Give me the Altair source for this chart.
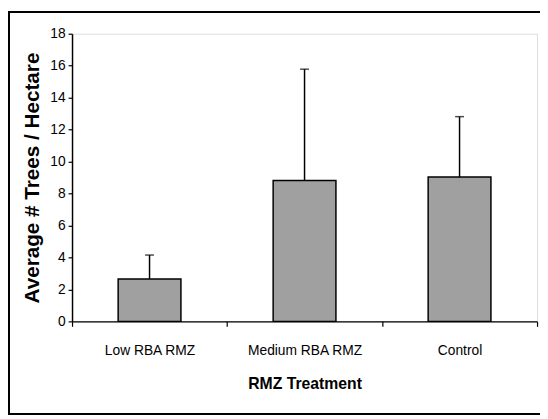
import altair as alt
import pandas as pd

categories = ["Low RBA RMZ", "Medium RBA RMZ", "Control"]
means = [2.65, 8.82, 9.03]
upper = [4.15, 15.78, 12.81]
y_ticks = [0, 2, 4, 6, 8, 10, 12, 14, 16, 18]

df = pd.DataFrame({"treatment": categories, "mean": means, "upper": upper})

FONT = "Liberation Sans, Arial, sans-serif"

x_enc = alt.X(
    "treatment:N",
    sort=categories,
    scale=alt.Scale(paddingInner=0, paddingOuter=0),
    axis=alt.Axis(
        title="RMZ Treatment",
        labelAngle=0,
        tickBand="extent",
        tickSize=5,
        tickColor="black",
        domainColor="black",
        domainWidth=1.5,
        tickWidth=1.2,
        labelFont=FONT,
        labelFontSize=14,
        labelColor="black",
        labelPadding=18,
        titleFont=FONT,
        titleFontSize=16,
        titleFontWeight="bold",
        titleColor="black",
        titlePadding=18,
    ),
)

y_scale = alt.Scale(domain=[0, 18], nice=False)
y_axis = alt.Axis(
    title="Average # Trees / Hectare",
    values=y_ticks,
    labelOverlap=False,
    grid=False,
    tickSize=4,
    tickColor="black",
    domainColor="black",
    domainWidth=1.5,
    tickWidth=1.2,
    labelFont=FONT,
    labelFontSize=14,
    labelColor="black",
    labelPadding=3,
    titleFont=FONT,
    titleFontSize=21,
    titleFontWeight="bold",
    titleColor="black",
    titlePadding=7,
)

base = alt.Chart(df)

bars = base.mark_bar(
    width=alt.RelativeBandSize(0.405), fill="#a0a0a0", stroke="black", strokeWidth=1.5
).encode(x=x_enc, y=alt.Y("mean:Q", scale=y_scale, axis=y_axis))

err = base.mark_rule(color="black", strokeWidth=1.5).encode(
    x=x_enc,
    y=alt.Y("mean:Q", scale=y_scale, axis=y_axis),
    y2="upper:Q",
)

caps = base.mark_tick(color="black", size=9, thickness=1.5).encode(
    x=x_enc,
    y=alt.Y("upper:Q", scale=y_scale, axis=y_axis),
)

frame = base.mark_rect(fill=None, stroke="black", strokeWidth=2, clip=False).encode(
    x=alt.value(-64), x2=alt.value(480), y=alt.value(-22), y2=alt.value(386)
)

chart = (
    alt.layer(frame, bars, err, caps)
    .properties(
        width=472,
        height=292,
        autosize=alt.AutoSizeParams(type="none"),
        padding={"left": 65, "top": 23, "right": 3, "bottom": 96},
    )
    .configure_view(stroke="#999999", strokeWidth=1.5)
    .configure(background="white")
)

chart.save("out.html", embed_options={"renderer": "svg", "actions": False})
